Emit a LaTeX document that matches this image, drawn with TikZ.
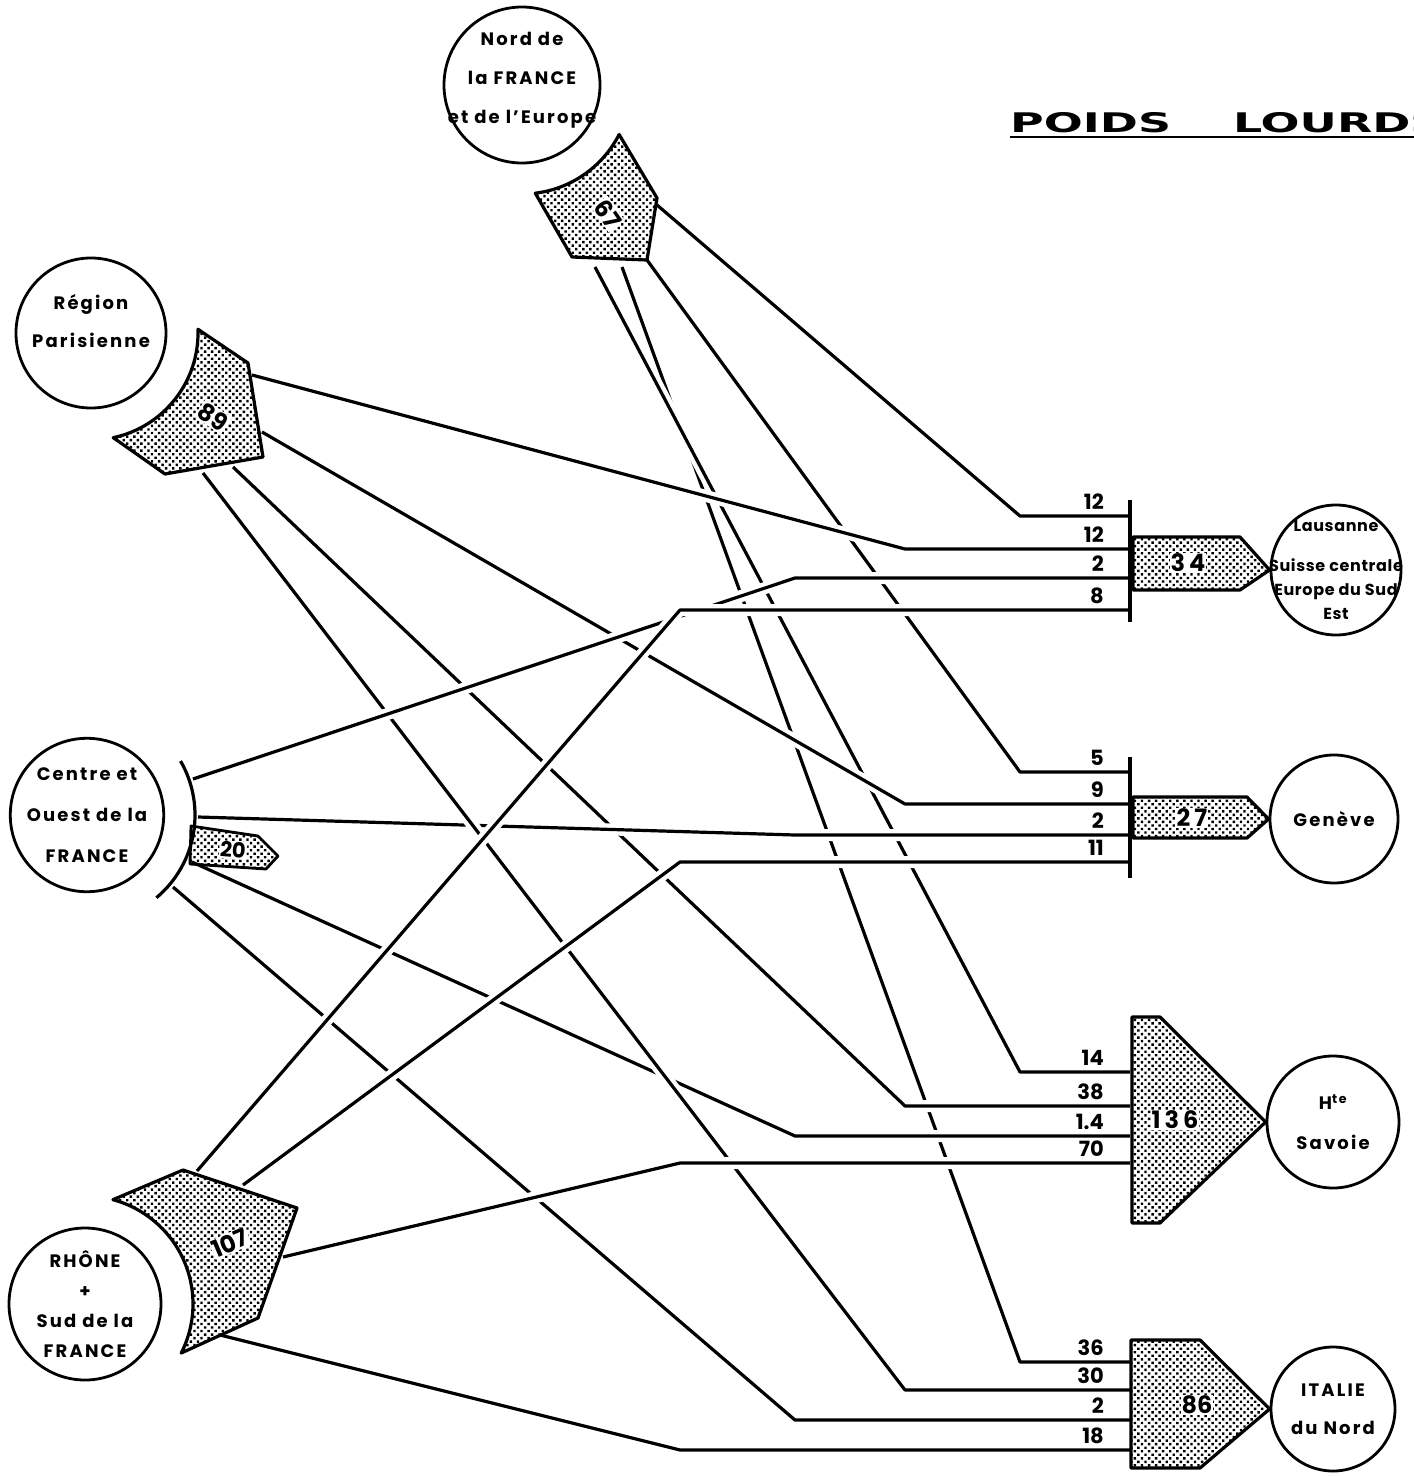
\documentclass[tikz,border=0pt]{standalone}
\usepackage{fontspec}
\setmainfont{Poppins}
\newfontfamily\titlefont{DejaVu Sans}[FakeStretch=1.7]
\usetikzlibrary{patterns.meta}

\newcommand{\placefont}{\bfseries\fontsize{18}{38}\selectfont\addfontfeature{LetterSpace=12}}
\newcommand{\countfont}{\bfseries\fontsize{21}{24}\selectfont}
\newcommand{\totalfont}{\bfseries\fontsize{24}{26}\selectfont}

% halftone screen of the shaded bundles
\tikzdeclarepattern{
  name=halftone,
  type=uncolored,
  bounding box={(-2.5pt,-2.5pt) and (2.5pt,2.5pt)},
  tile size={(5pt,5pt)},
  tile transformation={rotate=45},
  code={\pgfpathcircle{\pgfpointorigin}{1.7pt}\pgfusepath{fill}}
}

\begin{document}
\begin{tikzpicture}[x=1pt, y=-1pt, line join=round,
  place/.style={circle, draw, line width=2.8pt, inner sep=0pt, align=center, font=\placefont},
  tag/.style={inner sep=0pt, align=center, font=\placefont},
  flow/.style={line width=3.2pt, preaction={draw=white, line width=12pt}},
  bundle/.style={draw, line width=3.2pt, pattern=halftone},
  total/.style={fill=white, inner sep=1pt, font=\totalfont},
  count/.style={anchor=base east, inner sep=0pt, font=\countfont}]
  \useasboundingbox (0,0) rectangle (1414,1476);

  % origins (left) and destinations (right)
  \node[place, minimum size=156pt] (nord) at (522,85) {};
  \node[tag, font={\placefont\fontsize{18}{39}\selectfont}] (nordtext) at (522,80) {Nord de\\la FRANCE\\et de l'Europe};
  \node[place, minimum size=150pt] (reg) at (91,333) {};
  \node[tag] (regtext) at (91,321) {Région\\Parisienne};
  \node[place, minimum size=152pt, font={\placefont\fontsize{18}{41}\selectfont}] (cen) at (87,815) {Centre et\\Ouest de la\\FRANCE};
  \node[place, minimum size=152pt, font={\placefont\fontsize{18}{30}\selectfont}] (rho) at (85,1304) {RHÔNE\\+\\Sud de la\\FRANCE};

  \node[place, minimum size=130pt] (laus) at (1336,570) {};
  \node[tag, font={\placefont\fontsize{16}{24}\selectfont\addfontfeature{LetterSpace=4}}] (laustext) at (1336,570) {Lausanne\\[16pt]Suisse centrale\\Europe du Sud\\Est};
  \node[place, minimum size=128pt] (gen) at (1334,819) {Genève};
  \node[place, minimum size=132pt, font={\placefont\fontsize{18}{40}\selectfont}] (sav) at (1333,1122) {H\textsuperscript{te}\\Savoie};
  \node[place, minimum size=124pt] (ita) at (1333,1409) {ITALIE\\du Nord};

  % where each flow leaves its origin
  \coordinate (nL) at (657,205);
  \coordinate (nG) at (647,260);
  \coordinate (nS) at (595,267);
  \coordinate (nI) at (622,267);
  \coordinate (rL) at (252,375);
  \coordinate (rG) at (262,432);
  \coordinate (rS) at (233,467);
  \coordinate (rI) at (203,473);
  \coordinate (cL) at (193,779);
  \coordinate (cG) at (198,817);
  \coordinate (cS) at (192,862);
  \coordinate (cI) at (173,887);
  \coordinate (hL) at (197,1171);
  \coordinate (hG) at (243,1185);
  \coordinate (hS) at (283,1257);
  \coordinate (hI) at (220,1335);

  % flows, lowest first
  \foreach \s/\x/\y in {nI/1020/1362, nS/1020/1072, rS/905/1106, cG/795/835,
      nG/1020/772, cS/795/1136, cI/795/1420, rG/905/804, rI/905/1390,
      rL/905/549, nL/1020/516, cL/795/578,
      hL/680/610, hG/680/862, hS/680/1163, hI/680/1450}
    \draw[flow] (\s) -- (\x,\y) -- (1130,\y);

  % shaded bundles at the origins
  \path[bundle] ([shift={(83:109)}]nord.center) arc[start angle=83, end angle=27, radius=109]
    -- (657,198) -- (647,260) -- (572,257) -- cycle;
  \path[bundle] ([shift={(78:107)}]reg.center) arc[start angle=78, end angle=-2, radius=107]
    -- (248,363) -- (263,457) -- (165,474) -- cycle;
  \path[bundle] ([shift={(-75:108)}]rho.center) arc[start angle=-75, end angle=27, radius=108]
    -- (258,1318) -- (297,1208) -- (183,1170) -- cycle;
  \draw[line width=3.2pt] ([shift={(-30:108)}]cen.center) arc[start angle=-30, end angle=50, radius=108];
  \path[bundle, line width=2.8pt] (191,826) -- (258,836) -- (278,856) -- (266,869) -- (190,864) -- cycle;

  % bars and shaded bundles at the destinations
  \draw[line width=3.2pt] (1130,500) -- (1130,622);
  \draw[line width=3.2pt] (1130,757) -- (1130,878);
  \path[bundle] (1133,537) -- (1240,537) -- (laus.west) -- (1240,590) -- (1133,590) -- cycle;
  \path[bundle] (1133,797) -- (1247,797) -- (gen.west) -- (1247,838) -- (1133,838) -- cycle;
  \path[bundle] (1132,1017) -- (1160,1017) -- (sav.west) -- (1160,1223) -- (1132,1223) -- cycle;
  \path[bundle] (1131,1340) -- (1200,1340) -- (ita.west) -- (1200,1468) -- (1131,1468) -- cycle;

  % totals
  \node[total, rotate=-55] (t67) at (608,214) {67};
  \node[total, rotate=-35] (t89) at (213,417) {89};
  \node[total, rotate=-5, font=\countfont] (t20) at (233,850) {20};
  \node[total, rotate=23] (t107) at (230,1243) {107};
  \node[total] (t34) at (1188,563) {3\,4};
  \node[total] (t27) at (1192,818) {2\,7};
  \node[total] (t136) at (1175,1120) {1\,3\,6};
  \node[total] (t86) at (1197,1405) {86};

  % counts on the flows
  \foreach \y/\v [count=\i] in {516/12, 549/12, 578/2, 610/8, 772/5, 804/9, 835/2, 862/11,
      1072/14, 1106/38, 1136/1.4, 1163/70, 1362/36, 1390/30, 1420/2, 1450/18}
    \node[count] (v\i) at (1104,\y-7) {\v};

  % title
  \node[font=\titlefont\bfseries\fontsize{27}{30}\selectfont, anchor=base west, inner sep=0pt] (title) at (1010,132) {POIDS\hspace{62pt}LOURDS};
  \draw[line width=2.5pt] ([yshift=-5pt]title.base west) -- ([yshift=-5pt]title.base east);
\end{tikzpicture}
\end{document}
